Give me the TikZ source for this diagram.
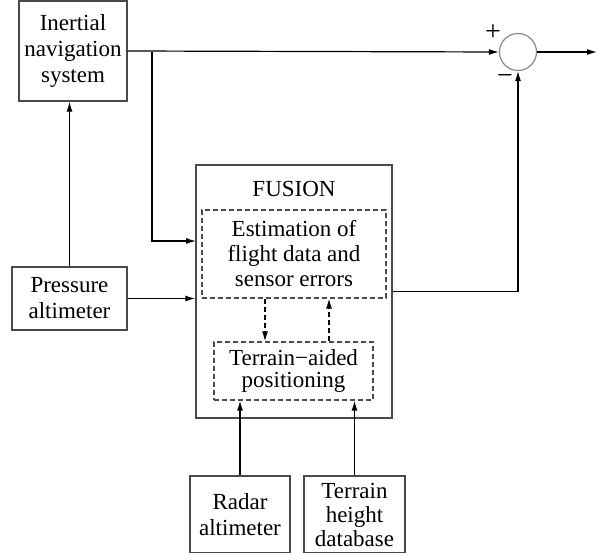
\documentclass[tikz,border=0pt]{standalone}
\usepackage{fontspec}
\setmainfont{Liberation Serif}
\usetikzlibrary{arrows,arrows.meta,shapes,positioning,calc}
\definecolor{boxgray}{HTML}{4A4A4A}
\definecolor{ringgray}{HTML}{8A8A8A}

\begin{document}
\begin{tikzpicture}[x=1pt,y=-1pt,>={Latex[length=10pt,width=6pt]},
    block/.style={draw=boxgray, line width=1.3pt, align=center, inner sep=0pt,
                  font=\fontsize{23}{26}\selectfont},
    dblock/.style={draw=boxgray, dash pattern=on 5pt off 3pt, line width=1.2pt, align=center, inner sep=0pt,
                   font=\fontsize{23}{25}\selectfont},
    line/.style={line width=1.2pt},
    dline/.style={line width=1.2pt, dash pattern=on 5pt off 3pt}]
  \useasboundingbox (0,0) rectangle (598,553);

  % blocks
  \node[block, minimum width=108, minimum height=100] (ins) at (73,51) {Inertial\\navigation\\system};
  \node[block, minimum width=115, minimum height=63] (pres) at (69.5,298.5) {Pressure\\altimeter};
  \node[block, minimum width=196, minimum height=253] (fusion) at (294,291.5) {};
  \node[font=\fontsize{23}{26}\selectfont] (title) at (294,189) {FUSION};
  \node[dblock, minimum width=184, minimum height=88] (est) at (294,254) {Estimation of\\flight data and\\sensor errors};
  \node[dblock, font=\fontsize{23}{22}\selectfont, minimum width=159, minimum height=58] (tap) at (293.5,371) {Terrain−aided\\positioning};
  \node[block, minimum width=100, minimum height=77] (radar) at (240,514.5) {Radar\\altimeter};
  \node[block, font=\fontsize{23}{24}\selectfont, minimum width=101, minimum height=77] (db) at (354.5,514.5) {Terrain\\height\\database};

  % summing junction
  \node[draw=ringgray, line width=1.2pt, circle, minimum size=37, inner sep=0pt] (sum) at (518,52) {};
  \node[font=\fontsize{28}{28}\selectfont] (plus) at (493,33) {+};
  \node[font=\fontsize{28}{28}\selectfont] (minus) at (505,80) {−};

  \coordinate (br) at (152,52);
  \coordinate (in1) at (196,241);
  \coordinate (out) at (597,52);

  % connections
  \draw[line,->] (ins.east) -- (sum.west);
  \draw[line,->] (sum.east) -- (out);
  \draw[line,->] (br) |- (in1);
  \draw[line,->] (pres.north) -- (pres.north |- ins.south);
  \draw[line,->] (pres.east) -- (pres.east -| fusion.west);
  \draw[line,->] (fusion.east) -| (sum.south);
  \draw[dline,->] ($(est.south)+(-29,0)$) -- ($(tap.north)+(-28.5,0)$);
  \draw[dline,->] ($(tap.north)+(35.5,0)$) -- ($(est.south)+(35,0)$);
  \draw[line,->] (radar.north) -- (radar.north |- tap.south);
  \draw[line,->] (db.north) -- (db.north |- tap.south);
\end{tikzpicture}
\end{document}
